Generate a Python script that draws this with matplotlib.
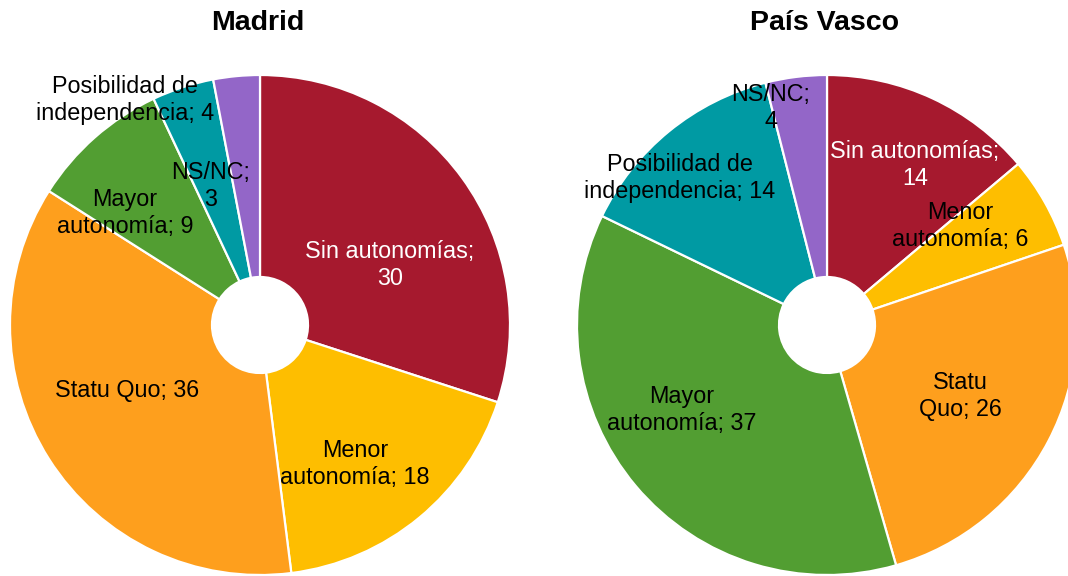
import matplotlib
matplotlib.use("Agg")
import matplotlib.pyplot as plt

plt.rcParams['font.family'] = ['Liberation Sans', 'DejaVu Sans']

categories = ["Sin autonomías", "Menor autonomía", "Statu Quo", "Mayor autonomía",
              "Posibilidad de independencia", "NS/NC"]
madrid_values = [30, 18, 36, 9, 4, 3]
vasco_values = [14, 6, 26, 37, 14, 4]
titles = ["Madrid", "País Vasco"]

madrid_labels = ["Sin autonomías;\n30", "Menor\nautonomía; 18", "Statu Quo; 36",
                 "Mayor\nautonomía; 9", "Posibilidad de\nindependencia; 4", "NS/NC;\n3"]
vasco_labels = ["Sin autonomías;\n14", "Menor\nautonomía; 6", "Statu\nQuo; 26",
                "Mayor\nautonomía; 37", "Posibilidad de\nindependencia; 14", "NS/NC;\n4"]

colors = ['#A6192E', '#FEBE00', '#FE9F1D', '#529E32', '#009AA3', '#9366C8']
label_colors = ['white', 'black', 'black', 'black', 'black', 'black']

W, H = 1068, 576
fig = plt.figure(figsize=(W / 100, H / 100), dpi=100)
ax = fig.add_axes([0, 0, 1, 1])
ax.set_xlim(0, W)
ax.set_ylim(H, 0)
ax.set_aspect('equal')
ax.axis('off')

# layout (pixel coordinates, y downward)
centers = [(260, 325), (827, 325)]
radius = 250
hole = 48
title_pos = [(258, 23), (825, 23)]
label_pos = [
    [(390, 265), (355, 464), (127, 391), (125, 213), (125, 100), (211, 186)],
    [(915, 165), (960, 226), (960, 396), (682, 410), (680, 178), (771, 108)],
]

for i, (vals, labels) in enumerate([(madrid_values, madrid_labels), (vasco_values, vasco_labels)]):
    cx, cy = centers[i]
    # y axis inverted -> counterclock=True draws clockwise on screen; startangle -90 -> top
    ax.pie(vals, colors=colors, startangle=-90, counterclock=True,
           center=(cx, cy), radius=radius, frame=True,
           wedgeprops=dict(edgecolor='white', linewidth=1.6, width=radius - hole))
    ax.text(title_pos[i][0], title_pos[i][1], titles[i], ha='center', va='center',
            fontsize=20.5, fontweight='bold')
    for j, lab in enumerate(labels):
        x, y = label_pos[i][j]
        ax.text(x, y, lab, ha='center', va='center', fontsize=16.8,
                color=label_colors[j], linespacing=1.22)

ax.set_xlim(0, W)
ax.set_ylim(H, 0)
ax.axis('off')
fig.savefig('out.png', dpi=100)
